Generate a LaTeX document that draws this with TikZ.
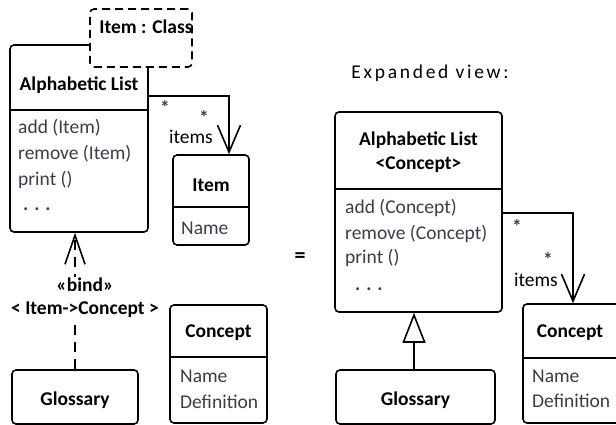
\documentclass[tikz,border=0pt]{standalone}
\usepackage{fontspec}
\setmainfont{Carlito}
\usetikzlibrary{arrows.meta,calc}
\definecolor{member}{HTML}{3C3C4A}
\tikzset{
  x=1pt, y=-1pt,
  cls/.style={draw, line width=1.6pt, rounded corners=4pt, fill=white, inner sep=0pt},
  tmpl/.style={cls, dash pattern=on 8pt off 5pt},
  ttl/.style={font=\bfseries\fontsize{19.5}{23}\selectfont, text=black, inner sep=0pt},
  mem/.style={font=\fontsize{19.5}{23}\selectfont, text=member, anchor=west, inner sep=0pt},
  dots/.style={font=\bfseries\fontsize{19.5}{23}\selectfont, text=member, anchor=base west, inner sep=0pt},
  lbl/.style={font=\fontsize{19.5}{23}\selectfont, text=black, inner sep=0pt},
  mult/.style={font=\bfseries\fontsize{19.5}{23}\selectfont, text=member, inner sep=0pt},
  divider/.style={line width=1.6pt},
  assoc/.style={line width=1.6pt, -{Straight Barb[length=27pt, width=23pt, line width=1.6pt]}},
  bind/.style={line width=1.6pt, dash pattern=on 10pt off 7pt,
    -{Straight Barb[length=29pt, width=20pt, line width=1.6pt]}},
  gen/.style={line width=1.6pt, -{Triangle[open, length=30pt, width=23pt, line width=1.6pt]}},
}
\begin{document}
\begin{tikzpicture}
\useasboundingbox (0,0) rectangle (616,425);
\clip (0,0) rectangle (616,425);

% ---------- template class ----------
\node[cls, minimum width=138pt, minimum height=187pt] (alA) at (79,138.5) {};
\draw[divider] (alA.west |- 0,110) -- (alA.east |- 0,110);
\node[ttl] (alAt) at (79,85) {Alphabetic List};
\node[mem] (alA1) at (18,128) {add (Item)};
\node[mem] (alA2) at (18,154) {remove (Item)};
\node[mem] (alA3) at (18,180) {print ()};
\node[dots] (alA4) at (23,211) {. . .};

% template parameter
\node[tmpl, minimum width=102pt, minimum height=58pt] (param) at (141,38) {};
\node[ttl] (paramt) at (146,27) {Item : Class};

% parameter class
\node[cls, minimum width=76pt, minimum height=90pt] (itemA) at (211,200) {};
\draw[divider] (itemA.west |- 0,207) -- (itemA.east |- 0,207);
\node[ttl] (itemAt) at (211,185) {Item};
\node[mem] (itemA1) at (181,228) {Name};

\draw[assoc] (alA.east |- 0,96) -| ($(itemA.north)+(18,0)$);
\node[mult] (mA1) at (165,108) {*};
\node[mult] (mA2) at (204,118) {*};
\node[lbl] (rA) at (191,137) {items};

% bound class
\node[cls, minimum width=126pt, minimum height=54pt] (glA) at (75,397) {};
\node[ttl] (glAt) at (75,400) {Glossary};
\draw[bind] (glA.north) -- (alA.south -| glA.north);
\node[ttl, fill=white, align=center, inner sep=1pt] (bindl) at (85,298)
  {«bind»\\[0pt]< Item->Concept >};

\node[cls, minimum width=97pt, minimum height=118pt] (coA) at (218.5,364) {};
\draw[divider] (coA.west |- 0,357) -- (coA.east |- 0,357);
\node[ttl] (coAt) at (218.5,333) {Concept};
\node[mem] (coA1) at (180,376) {Name};
\node[mem] (coA2) at (180,402) {Definition};

% equals sign
\node[font=\bfseries\fontsize{22}{24}\selectfont, inner sep=0pt] (eq) at (300,258) {=};

% ---------- expanded view ----------
\node[font=\fontsize{19.5}{23}\selectfont\addfontfeature{LetterSpace=14}, text=black, inner sep=0pt]
  (exp) at (430,73) {Expanded view:};

\node[cls, minimum width=167pt, minimum height=200pt] (alB) at (418.5,212) {};
\draw[divider] (alB.west |- 0,189) -- (alB.east |- 0,189);
\node[ttl] (alBt) at (418.5,140) {Alphabetic List};
\node[ttl] (alBt2) at (418.5,165) {<Concept>};
\node[mem] (alB1) at (345,208) {add (Concept)};
\node[mem] (alB2) at (345,234) {remove (Concept)};
\node[mem] (alB3) at (345,258) {print ()};
\node[dots] (alB4) at (355,290) {. . .};

\node[cls, minimum width=97pt, minimum height=119pt] (coB) at (571.5,363.5) {};
\draw[divider] (coB.west |- 0,358) -- (coB.east |- 0,358);
\node[ttl] (coBt) at (570,333) {Concept};
\node[mem] (coB1) at (532,376) {Name};
\node[mem] (coB2) at (532,401) {Definition};

\draw[assoc] (alB.east |- 0,213) -| ($(coB.north)+(1.5,0)$);
\node[mult] (mB1) at (517,227) {*};
\node[mult] (mB2) at (548,260) {*};
\node[lbl] (rB) at (536,280) {items};

\node[cls, minimum width=159pt, minimum height=54pt] (glB) at (415.5,397) {};
\node[ttl] (glBt) at (415.5,400) {Glossary};
\draw[gen] (glB.north -| 414,0) -- (alB.south -| 414,0);
\end{tikzpicture}
\end{document}
